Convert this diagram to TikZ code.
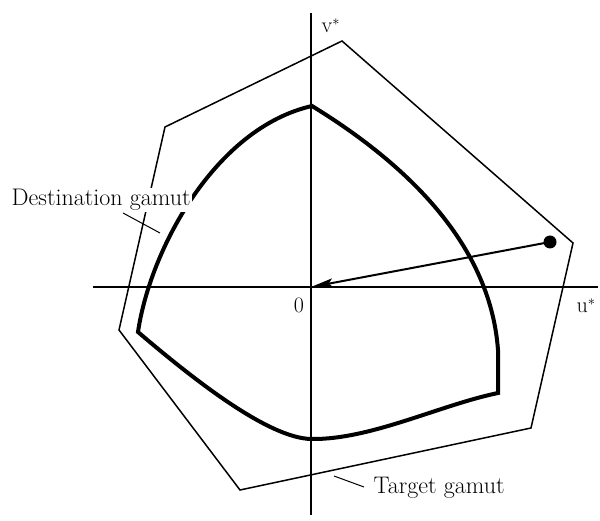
\documentclass[tikz,border=0pt]{standalone}
\usepackage{fontspec}
\usetikzlibrary{arrows.meta}
\begin{document}
\begin{tikzpicture}[x=1pt,y=-1pt,
  axis/.style={line width=1.4pt},
  gamut/.style={line width=1.5pt, line join=miter},
  dest/.style={line width=4pt, line join=miter, line cap=round},
  lbl/.style={font=\fontsize{24}{28}\selectfont, inner sep=1.5pt},
  sym/.style={font=\fontsize{22}{26}\selectfont, inner sep=1.5pt},
  leader/.style={line width=1pt},
  mapline/.style={line width=2pt, -{Stealth[length=22pt,width=9pt,inset=4pt]}}]
\useasboundingbox (0,0) rectangle (600,521);
% axes
\coordinate (vtop) at (311,13);
\coordinate (vbot) at (311,515);
\coordinate (hl) at (93,287);
\coordinate (hr) at (598,287);
\coordinate (O) at (311,287);
\draw[axis] (vtop) -- (vbot);
\draw[axis] (hl) -- (hr);
% target gamut (hexagon)
\draw[gamut] (342,41) -- (573,243) -- (531,428) -- (240,490) -- (119,330) -- (165,127) -- cycle;
% destination gamut
\draw[dest] (312,106) .. controls (400,160) and (490,240) .. (498,350)
  -- (498,393)
  .. controls (440,405) and (370,440) .. (311,439)
  .. controls (270,438) and (200,385) .. (138,332)
  .. controls (150,250) and (215,128) .. cycle;
% mapping arrow
\node[circle, fill, inner sep=0pt, minimum size=13pt] (pt) at (550,242) {};
\draw[mapline] (pt.center) -- (O);
% labels
\node[sym, anchor=base west] (vlab) at (320,33) {v$^{*}$};
\node[sym, anchor=base west] (ulab) at (575,313) {u$^{*}$};
\node[sym, anchor=base] (zero) at (299,313) {0};
\node[lbl, anchor=base west, fill=white] (dlab) at (10,206) {Destination gamut};
\node[lbl, anchor=base west] (tlab) at (372,493) {Target gamut};
% leaders
\coordinate (d1) at (123,213);
\coordinate (d2) at (160,233);
\draw[leader] (d1) -- (d2);
\coordinate (t1) at (334,476);
\coordinate (t2) at (364,487);
\draw[leader] (t1) -- (t2);
\end{tikzpicture}
\end{document}
